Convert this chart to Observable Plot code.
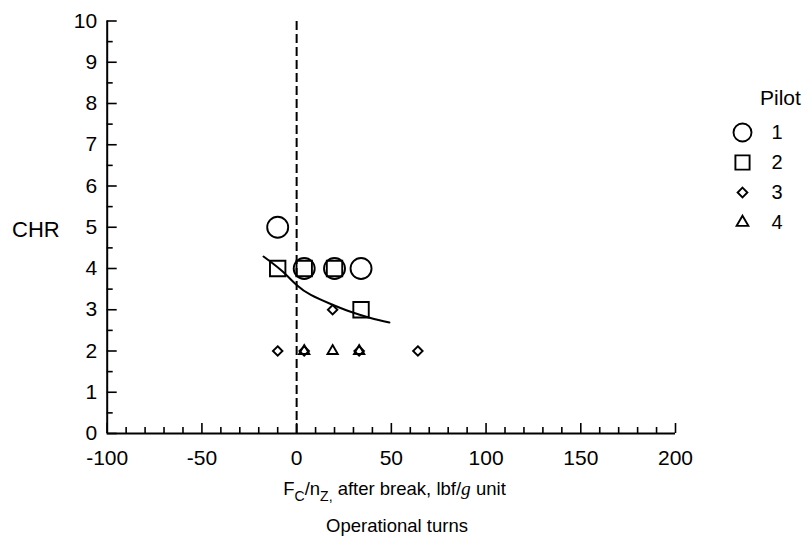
<!DOCTYPE html>
<html>
<head>
<meta charset="utf-8">
<script src="https://cdn.jsdelivr.net/npm/d3@7"></script>
<script src="https://cdn.jsdelivr.net/npm/@observablehq/plot@0.6"></script>
<style>
  body { margin: 0; background: #fff; }
  #wrap { position: relative; width: 812px; height: 548px; font-family: "Liberation Sans", Arial, sans-serif; }
  #legend { position: absolute; left: 720px; top: 110px; }
</style>
</head>
<body>
<div id="wrap"></div>
<script>
// ---- data ----
const xDomain = [-100, 200];
const yDomain = [0, 10];
const xTicks = [-100, -50, 0, 50, 100, 150, 200];
const yTicks = [0, 1, 2, 3, 4, 5, 6, 7, 8, 9, 10];
const xMinorTicks = [-90, -80, -70, -60, -40, -30, -20, -10, 10, 20, 30, 40, 60, 70, 80, 90, 110, 120, 130, 140, 160, 170, 180, 190];
const yMinorTicks = [0.5, 1.5, 2.5, 3.5, 4.5, 5.5, 6.5, 7.5, 8.5, 9.5];
const pilotNames = ["1", "2", "3", "4"];
const pilot1X = [-10, 4, 20, 34];
const pilot1Y = [5, 4, 4, 4];
const pilot2X = [-10, 4, 20, 34];
const pilot2Y = [4, 4, 4, 3];
const pilot3X = [19, -10, 4, 33, 64];
const pilot3Y = [3, 2, 2, 2, 2];
const pilot4X = [4, 19, 33];
const pilot4Y = [2, 2, 2];
const fitX = [-17.5, -8, 0, 7.5, 18, 28.5, 39, 49];
const fitY = [4.29, 3.95, 3.6, 3.36, 3.14, 2.95, 2.8, 2.69];
const referenceX = [0];

// ---- layout ----
const W = 812, H = 548;
const mL = 106.7, mR = 137, mT = 20.5, mB = 115;
const FW = W - mL - mR, FH = H - mT - mB;
const font = "'Liberation Sans', Arial, Helvetica, sans-serif";

const pts = (xs, ys) => xs.map((x, i) => ({x, y: ys[i]}));
const dotStyle = (symbol, r) => ({x: "x", y: "y", symbol, r, stroke: "black", fill: "none", strokeWidth: 1.9});

const chart = Plot.plot({
  width: W, height: H,
  marginLeft: mL, marginRight: mR, marginTop: mT, marginBottom: mB,
  style: {fontFamily: font, color: "black", background: "white"},
  x: {domain: xDomain},
  y: {domain: yDomain},
  marks: [
    // inward ticks
    Plot.tickX(xMinorTicks, {x: d => d, insetTop: FH - 6, strokeWidth: 1.6}),
    Plot.tickX(xTicks, {x: d => d, insetTop: FH - 10, strokeWidth: 1.6}),
    Plot.tickY(yMinorTicks, {y: d => d, insetRight: FW - 6, strokeWidth: 1.6}),
    Plot.tickY(yTicks, {y: d => d, insetRight: FW - 10, strokeWidth: 1.6}),
    // tick labels
    Plot.axisX(xTicks, {tickSize: 0, tickPadding: 17, fontSize: 21, label: null, tickFormat: d => String(d)}),
    Plot.axisY(yTicks, {tickSize: 0, tickPadding: 10, fontSize: 21, label: null, tickFormat: d => String(d)}),
    // axis lines
    Plot.ruleY([yDomain[0]], {x1: xDomain[0], x2: xDomain[1], strokeWidth: 2}),
    Plot.ruleX([xDomain[0]], {y1: yDomain[0], y2: yDomain[1], strokeWidth: 2}),
    // dashed reference line
    Plot.ruleX(referenceX, {y1: yDomain[0], y2: yDomain[1], strokeWidth: 2, strokeDasharray: "9,4"}),
    // fitted curve
    Plot.line(pts(fitX, fitY), {x: "x", y: "y", curve: "natural", strokeWidth: 2, stroke: "black"}),
    // pilots
    Plot.dot(pts(pilot1X, pilot1Y), dotStyle("circle", 10.5)),
    Plot.dot(pts(pilot2X, pilot2Y), dotStyle("square", 8.7)),
    Plot.dot(pts(pilot3X, pilot3Y), dotStyle("diamond2", 4.3)),
    Plot.dot(pts(pilot4X, pilot4Y), dotStyle("triangle2", 4.9))
  ]
});

const svg = d3.select(chart);
const addText = (x, y, size, anchor, str) =>
  svg.append("text").attr("x", x).attr("y", y).attr("font-size", size)
     .attr("font-family", font).attr("fill", "black").attr("text-anchor", anchor).text(str);
// y label
addText(12, 237, 22, "start", "CHR");
// x label with subscripts
const xl = addText(394.5, 495, 18.5, "middle", null);
xl.append("tspan").text("F");
xl.append("tspan").attr("font-size", 14).attr("dy", 6).text("C");
xl.append("tspan").attr("dy", -6).text("/n");
xl.append("tspan").attr("font-size", 14).attr("dy", 6).text("Z,");
xl.append("tspan").attr("dy", -6).text(" after break, lbf/");
xl.append("tspan").attr("font-family", "'Liberation Serif', 'Times New Roman', serif").attr("font-style", "italic").attr("font-size", 19.5).text("g");
xl.append("tspan").text(" unit");
// caption
addText(397, 532, 18.5, "middle", "Operational turns");
// legend title
addText(760, 105, 21, "start", "Pilot");

const wrap = document.getElementById("wrap");
wrap.appendChild(chart);

// legend as a small Plot
const legendSymbols = ["circle", "square", "diamond2", "triangle2"];
const legendR = [9, 8, 4.4, 5.6];
const legend = Plot.plot({
  width: 92, height: 140, margin: 0,
  style: {fontFamily: font, color: "black", background: "transparent"},
  x: {domain: [0, 1], range: [22, 51], axis: null},
  y: {type: "point", domain: pilotNames, range: [21, 113], padding: 0, axis: null},
  marks: [
    ...pilotNames.map((name, i) => Plot.dot([name], {x: () => 0, y: d => d, symbol: legendSymbols[i], r: legendR[i], stroke: "black", fill: "none", strokeWidth: 1.9})),
    Plot.text(pilotNames, {x: () => 1, y: d => d, text: d => d, textAnchor: "start", fontSize: 20})
  ]
});
legend.id = "legend";
wrap.appendChild(legend);
</script>
</body>
</html>
